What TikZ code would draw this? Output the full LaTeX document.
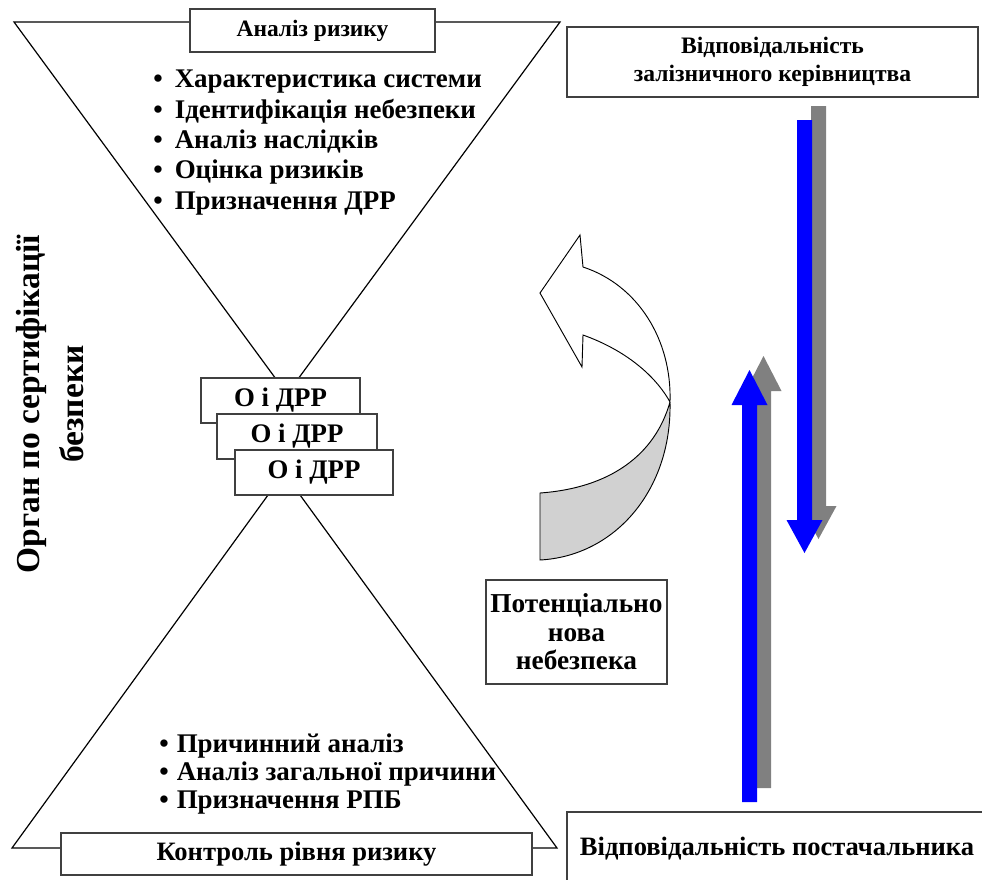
\documentclass[tikz,border=0pt]{standalone}
\usepackage{fontspec}
\setmainfont{Liberation Serif}
\begin{document}
\begin{tikzpicture}[x=0.75pt,y=-0.75pt,
  tri/.style={draw=black, line width=0.9pt},
  frame/.style={draw=black!75, line width=1.2pt, fill=white, inner sep=0pt, align=center},
  item/.style={anchor=base west, inner sep=0pt, font=\bfseries\fontsize{20.2}{24}\selectfont},
  tagfont/.style={font=\bfseries\fontsize{20.1}{24}\selectfont},
  blue arrow/.style={fill=blue, draw=none},
  shadow arrow/.style={fill=black!50, draw=none},
  ribbon/.style={draw=black, line width=0.7pt}
]
\useasboundingbox (0,0) rectangle (982,879);

% two triangles of the hourglass
\coordinate (tl) at (14,22);
\coordinate (tr) at (560,22);
\coordinate (ta) at (287,394);
\draw[tri] (tl) -- (tr) -- (ta) -- cycle;
\coordinate (bl) at (12,848);
\coordinate (br) at (557,848);
\coordinate (ba) at (284,473);
\draw[tri] (bl) -- (br) -- (ba) -- cycle;

% title boxes on the triangles
\node[frame, font=\bfseries\fontsize{17.6}{21}\selectfont,
      minimum width=245*0.75pt, minimum height=43*0.75pt] (risk) at (312.5,30.5) {Аналіз ризику};
\node[frame, font=\bfseries\fontsize{19.9}{23}\selectfont,
      minimum width=471*0.75pt, minimum height=42*0.75pt] (control) at (296.5,854) {Контроль рівня ризику};

% upper list
\node[item] (u1) at (153,87)  {•\hspace{0.45em}Характеристика системи};
\node[item] (u2) at (153,118) {•\hspace{0.45em}Ідентифікація небезпеки};
\node[item] (u3) at (153,148) {•\hspace{0.45em}Аналіз наслідків};
\node[item] (u4) at (153,178) {•\hspace{0.45em}Оцінка ризиків};
\node[item] (u5) at (153,209) {•\hspace{0.45em}Призначення ДРР};

% lower list
\node[item] (l1) at (159,752) {•\hspace{0.3em}Причинний аналіз};
\node[item] (l2) at (159,780) {•\hspace{0.3em}Аналіз загальної причини};
\node[item] (l3) at (159,808) {•\hspace{0.3em}Призначення РПБ};

% stacked boxes at the waist
\node[frame, tagfont, minimum width=159*0.75pt, minimum height=45*0.75pt] (oa) at (280.5,400.5) {О і ДРР};
\node[frame, tagfont, minimum width=160*0.75pt, minimum height=45*0.75pt] (ob) at (297,436.5) {О і ДРР};
\node[frame, tagfont, minimum width=158*0.75pt, minimum height=45*0.75pt] (oc) at (314,472.5) {О і ДРР};

% vertical side label
\node[rotate=90, align=center, inner sep=0pt,
      font=\bfseries\fontsize{25.1}{33}\selectfont] (body) at (50,404)
      {Орган по сертифікації\\безпеки};

% curved ribbon arrow
\coordinate (tip) at (540,293);
\coordinate (h1) at (580,235);
\coordinate (a) at (583,267);
\coordinate (c) at (670,402);
\coordinate (b) at (583,335);
\coordinate (h2) at (582,367);
\coordinate (d) at (540,560);
\coordinate (e) at (540,493);
\filldraw[ribbon, fill=black!18] (c) .. controls (672,490) and (615,556) .. (d) -- (e)
  .. controls (610,488) and (655,455) .. (c);
\filldraw[ribbon, fill=white] (tip) -- (h1) -- (a) .. controls (638,285) and (672,340) .. (c)
  .. controls (655,375) and (625,350) .. (b) -- (h2) -- cycle;

\node[frame, minimum width=181*0.75pt, minimum height=104*0.75pt,
      font=\bfseries\fontsize{20.5}{21.4}\selectfont] (newhaz) at (576.5,632)
      {Потенціально\\нова\\небезпека};

% responsibility boxes
\node[frame, font=\bfseries\fontsize{17.7}{21}\selectfont,
      minimum width=411*0.75pt, minimum height=70*0.75pt] (rail) at (772.5,62)
      {Відповідальність\\залізничного керівництва};
\node[frame, font=\bfseries\fontsize{19.9}{23}\selectfont,
      minimum width=420*0.75pt, minimum height=74*0.75pt] (supplier) at (777,849)
      {Відповідальність постачальника};

% block arrows with drop shadows
\begin{scope}[shift={(14,-14)}]
  \path[shadow arrow] (742,802) -- (742,405) -- (731.5,405) -- (749.5,370) -- (767.5,405) -- (757,405) -- (757,802) -- cycle;
  \path[shadow arrow] (797,120) -- (797,520) -- (786.5,520) -- (804.5,553) -- (822.5,520) -- (812,520) -- (812,120) -- cycle;
\end{scope}
\path[blue arrow] (742,802) -- (742,405) -- (731.5,405) -- (749.5,370) -- (767.5,405) -- (757,405) -- (757,802) -- cycle;
\path[blue arrow] (797,120) -- (797,520) -- (786.5,520) -- (804.5,553) -- (822.5,520) -- (812,520) -- (812,120) -- cycle;
\end{tikzpicture}
\end{document}
